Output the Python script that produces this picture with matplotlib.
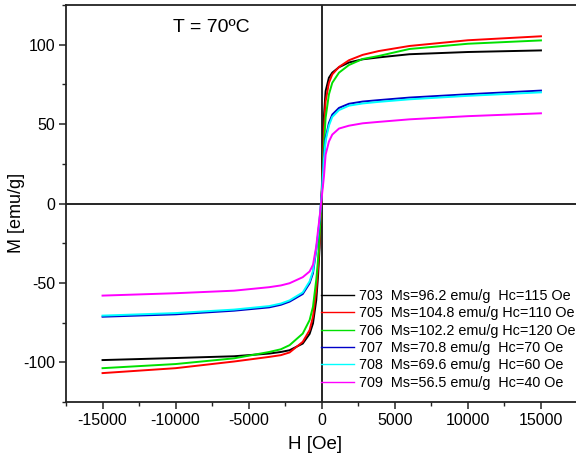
import matplotlib
matplotlib.use("Agg")
import matplotlib.pyplot as plt
from matplotlib.ticker import MultipleLocator

plt.rcParams['font.family'] = ['Liberation Sans', 'DejaVu Sans']
plt.rcParams['axes.unicode_minus'] = False

# Field values (Oe)
H = [-15000, -10000, -6000, -3600, -2800, -2200, -1300, -830, -600, -375, -250, -150, 0,
     150, 265, 490, 720, 1180, 1860, 2800, 3900, 6000, 10000, 15000]

# Magnetization (emu/g) per sample
M_703 = [-98.6, -97.3, -96.2, -94.5, -93.5, -92.4, -88.2, -82.1, -75.5, -60.8, -45, -28, 8,
         55, 70.8, 79.2, 82.4, 85.8, 88.8, 90.8, 92, 94, 95.4, 96.4]
M_705 = [-106.8, -103.7, -99.5, -96.6, -95.5, -93.8, -87.1, -79.7, -71.3, -54.4, -40, -24, 6,
         47, 64.4, 76, 81.3, 86, 90.2, 93.6, 96, 99.2, 102.8, 105.3]
M_706 = [-103.7, -101.1, -97.5, -93.5, -91.8, -89.2, -81.9, -73.4, -65, -48, -35, -20, 5,
         37, 54, 68.7, 76, 82.4, 87.2, 91, 92.9, 97.3, 100.6, 102.7]
M_707 = [-71.3, -69.8, -67.5, -65.4, -63.8, -61.8, -57, -50.2, -43.9, -29, -20, -11, 6,
         30, 41.2, 50.7, 56, 60.2, 62.8, 64.2, 65.1, 66.7, 68.8, 71.1]
M_708 = [-70.6, -69, -66.8, -64.6, -63, -61, -56, -49, -42.5, -28, -19, -10, 6,
         28, 39.5, 49, 54.5, 58.8, 61.6, 63, 64, 65.6, 67.8, 70]
M_709 = [-58, -56.5, -54.9, -52.7, -51.6, -50.2, -46.4, -42.8, -38.6, -27, -16.5, -9, 4,
         17, 30.7, 39, 43.4, 47.2, 49, 50.5, 51.4, 53, 55, 56.8]

labels = ["703  Ms=96.2 emu/g  Hc=115 Oe",
          "705  Ms=104.8 emu/g Hc=110 Oe",
          "706  Ms=102.2 emu/g Hc=120 Oe",
          "707  Ms=70.8 emu/g  Hc=70 Oe",
          "708  Ms=69.6 emu/g  Hc=60 Oe",
          "709  Ms=56.5 emu/g  Hc=40 Oe"]
colors = ["#000000", "#ff0000", "#00e000", "#0000c8", "#00ffff", "#ff00ff"]
series = [M_703, M_705, M_706, M_707, M_708, M_709]

fig = plt.figure(figsize=(5.76, 4.54), dpi=100)
ax = fig.add_axes([66/576, 52/454, 511.5/576, 397/454])

for M, c, lab in zip(series, colors, labels):
    ax.plot(H, M, color=c, lw=1.4, label=lab, zorder=3)

ax.axhline(0, color='black', lw=1.2, zorder=2)
ax.axvline(0, color='black', lw=1.2, zorder=2)

ax.set_xlim(-17500, 17500)
ax.set_ylim(-125, 125)
ax.xaxis.set_major_locator(MultipleLocator(5000))
ax.xaxis.set_minor_locator(MultipleLocator(2500))
ax.yaxis.set_major_locator(MultipleLocator(50))
ax.yaxis.set_minor_locator(MultipleLocator(25))
ax.tick_params(which='major', direction='out', length=5, width=1.1,
               labelsize=11.5, pad=3, color='#222222')
ax.tick_params(which='minor', direction='out', length=3, width=1.0, color='#222222')
ax.tick_params(top=False, right=False, which='both')
for s in ax.spines.values():
    s.set_linewidth(1.3)
    s.set_color('#222222')

ax.set_xlabel("H [Oe]", fontsize=13.5, labelpad=1)
ax.xaxis.set_label_coords((315.5 - 66) / 511.5, -0.085)
ax.set_ylabel("M [emu/g]", fontsize=13, labelpad=2)
ax.yaxis.set_label_coords(-0.081, (402 - 212.5) / 397)

fig.text(211/576, 1 - 28/454, "T = 70ºC", fontsize=14, ha='center', va='center')

handles = [plt.Line2D([], [], color=c, lw=1.0) for c in colors]
leg = fig.legend(handles, labels, loc='upper left',
                 bbox_to_anchor=(321/576, 1 - 289/454),
                 frameon=False, fontsize=10.4, borderpad=0, borderaxespad=0,
                 handlelength=2.3, handletextpad=0.3, labelspacing=0.23)

fig.savefig("out.png", dpi=100)
